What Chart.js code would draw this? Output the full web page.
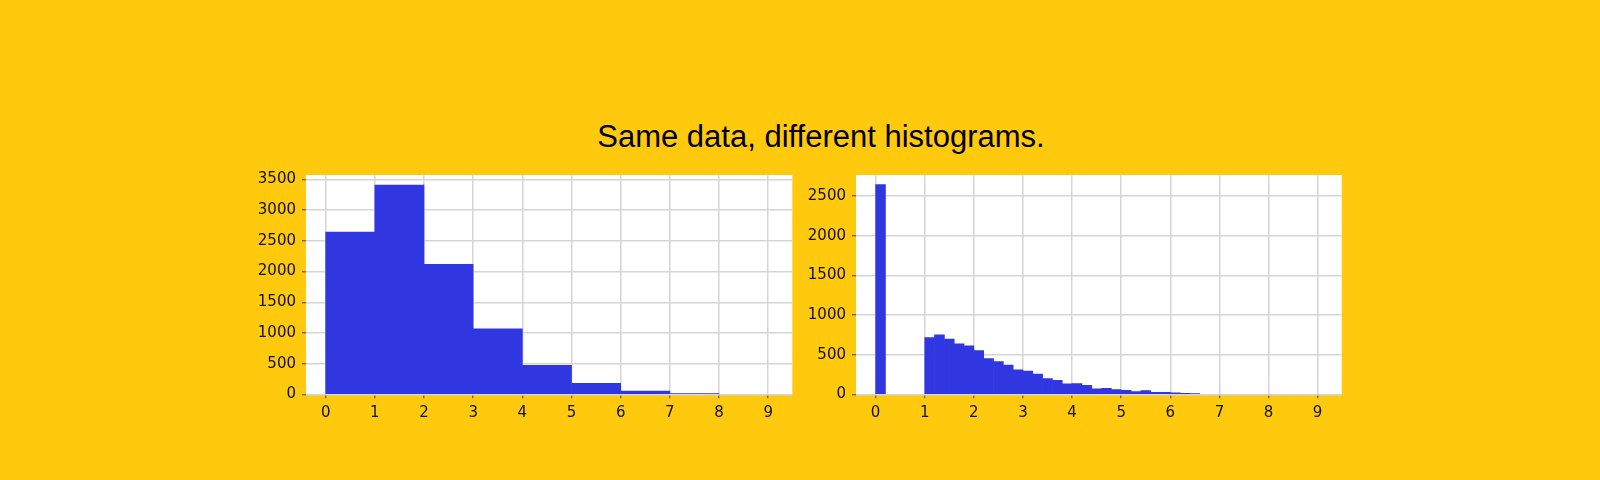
<!DOCTYPE html>
<html><head><meta charset="utf-8">
<script src="https://cdn.jsdelivr.net/npm/chart.js@4.4.1/dist/chart.umd.min.js"></script>
<style>
html,body{margin:0;padding:0;background:#FFC90E;width:1600px;height:480px;overflow:hidden;}
#title{position:absolute;left:0;width:1642px;top:121px;line-height:31px;text-align:center;font-family:'Liberation Sans',Arial,sans-serif;font-size:31px;color:#000;white-space:nowrap;}
canvas{position:absolute;}
</style></head>
<body>
<div id="title">Same data, different histograms.</div>
<canvas id="left" width="560" height="270" style="left:240px;top:160px;width:560px;height:270px"></canvas>
<canvas id="right" width="560" height="270" style="left:800px;top:160px;width:560px;height:270px"></canvas>
<script>
// ---- data ----
const leftBinStart = 0;
const leftBinWidth = 1;
const leftCounts = [2642, 3408, 2117, 1066, 472, 177, 54, 9, 0];

const rightBinStart = 0;
const rightBinWidth = 0.2;
const rightCounts = [
  2645, 0, 0, 0, 0,
  716, 750, 695, 636, 611,
  552, 451, 414, 367, 309,
  292, 254, 199, 176, 133,
  136, 113, 70, 74, 60,
  50, 33, 46, 24, 24,
  19, 12, 8
];

const xTicks = [0, 1, 2, 3, 4, 5, 6, 7, 8, 9];
const leftYTicks = [0, 500, 1000, 1500, 2000, 2500, 3000, 3500];
const rightYTicks = [0, 500, 1000, 1500, 2000, 2500];

// ---- style ----
const BAR = '#3036E0';
const GRID = '#d5d5d5';
const TICKC = '#4e5b86';
const FONT = {family: "'DejaVu Sans', sans-serif", size: 15};

// empty bins are not drawn (as in the reference)
function binPoints(start, width, counts) {
  return counts.map((c, i) => ({x: start + width * (i + 0.5), y: c}))
               .filter(p => p.y > 0);
}

const plotBg = {
  id: 'plotBg',
  beforeDraw(chart) {
    const {ctx, chartArea: a} = chart;
    ctx.save();
    ctx.fillStyle = '#ffffff';
    ctx.fillRect(a.left, a.top, a.right - a.left, a.bottom - a.top);
    ctx.restore();
  }
};

function makeChart(id, points, yMax, yTicks, yAxisWidth, padRight) {
  return new Chart(document.getElementById(id), {
    type: 'bar',
    data: {datasets: [{
      data: points,
      backgroundColor: BAR,
      borderWidth: 0,
      barPercentage: 1,
      categoryPercentage: 1
    }]},
    options: {
      responsive: false,
      animation: false,
      layout: {padding: {top: 12.7, right: padRight, left: 0, bottom: 0}},
      plugins: {legend: {display: false}, tooltip: {enabled: false}},
      scales: {
        x: {
          type: 'linear',
          offset: false,
          min: -0.40,
          max: 9.49,
          afterFit(s) { s.height = 35.7; },
          afterBuildTicks(s) { s.ticks = xTicks.map(v => ({value: v})); },
          border: {display: false},
          grid: {offset: false, color: GRID, lineWidth: 1.5, tickColor: TICKC, tickLength: 4, tickWidth: 1.2},
          ticks: {font: FONT, color: '#111', padding: 6, autoSkip: false, maxRotation: 0,
                  callback: v => String(v)}
        },
        y: {
          min: 0,
          max: yMax,
          afterFit(s) { s.width = yAxisWidth; },
          afterBuildTicks(s) { s.ticks = yTicks.map(v => ({value: v})); },
          border: {display: false},
          grid: {color: GRID, lineWidth: 1.5, tickColor: TICKC, tickLength: 4, tickWidth: 1.2},
          ticks: {font: FONT, color: '#111', padding: 6, callback: v => String(v)}
        }
      }
    },
    plugins: [plotBg]
  });
}

makeChart('left', binPoints(leftBinStart, leftBinWidth, leftCounts), 3574, leftYTicks, 66, 7.7);
makeChart('right', binPoints(rightBinStart, rightBinWidth, rightCounts), 2766, rightYTicks, 56, 18.3);
</script>
</body></html>
